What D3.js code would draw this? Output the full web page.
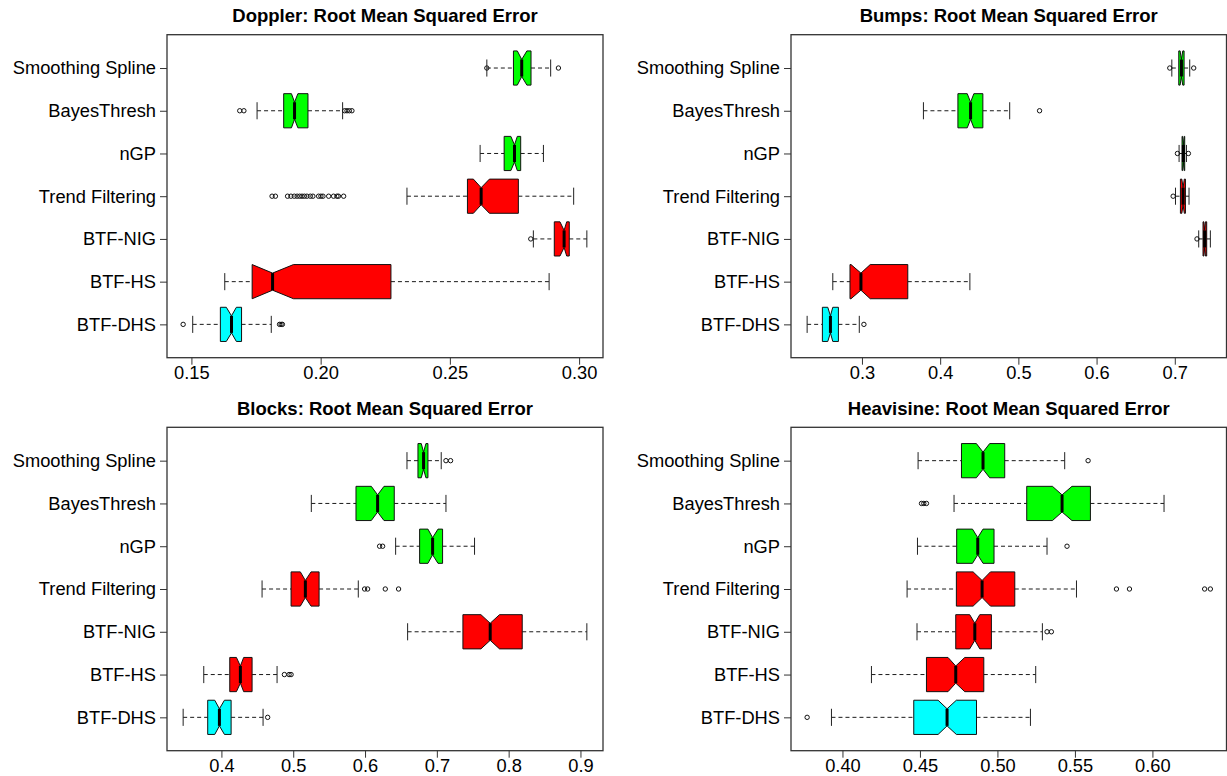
<!DOCTYPE html>
<html>
<head>
<meta charset="utf-8">
<script src="https://cdn.jsdelivr.net/npm/d3@7"></script>
<style>
  body { margin: 0; background: #fff; }
  svg { display: block; font-family: "Liberation Sans", Arial, Helvetica, sans-serif; }
</style>
</head>
<body>
<script>
const methods = ['Smoothing Spline', 'BayesThresh', 'nGP', 'Trend Filtering', 'BTF-NIG', 'BTF-HS', 'BTF-DHS'];
const fills = ['#00ff00', '#00ff00', '#00ff00', '#ff0000', '#ff0000', '#ff0000', '#00ffff'];

// per method: [lower whisker, Q1, median, Q3, upper whisker, notch lo, notch hi]
const dopplerStats = [
  [0.2643, 0.2746, 0.2778, 0.2814, 0.2890, 0.2761, 0.2798],
  [0.1754, 0.1857, 0.1899, 0.1951, 0.2085, 0.1887, 0.1912],
  [0.2617, 0.2710, 0.2750, 0.2774, 0.2862, 0.2736, 0.2761],
  [0.2334, 0.2568, 0.2621, 0.2765, 0.2979, 0.2591, 0.2653],
  [0.2823, 0.2904, 0.2942, 0.2962, 0.3030, 0.2926, 0.2952],
  [0.1629, 0.1735, 0.1814, 0.2272, 0.2884, 0.1735, 0.1895],
  [0.1505, 0.1612, 0.1655, 0.1694, 0.1809, 0.1635, 0.1674]
];
const dopplerOut = [
  [0.2643, 0.2920],
  [0.1687, 0.1703, 0.2093, 0.2102, 0.2111, 0.2121],
  [],
  [0.1812, 0.1825, 0.1872, 0.1885, 0.1898, 0.1909, 0.1919, 0.1928, 0.1937, 0.1947,
   0.1960, 0.1970, 0.1992, 0.2001, 0.2009, 0.2031, 0.2050, 0.2063, 0.2069, 0.2089],
  [0.2813],
  [],
  [0.1468, 0.1841, 0.1847, 0.1852]
];
const dopplerTicks = [0.15, 0.20, 0.25, 0.30];

const bumpsStats = [
  [0.6962, 0.7051, 0.7085, 0.7119, 0.7191, 0.7068, 0.7102],
  [0.3786, 0.4227, 0.4389, 0.4546, 0.4889, 0.4346, 0.4431],
  [0.7055, 0.7093, 0.7110, 0.7127, 0.7149, 0.7100, 0.7120],
  [0.7009, 0.7072, 0.7106, 0.7136, 0.7182, 0.7090, 0.7122],
  [0.7306, 0.7361, 0.7382, 0.7408, 0.7455, 0.7372, 0.7392],
  [0.2627, 0.2847, 0.2987, 0.3586, 0.4380, 0.2860, 0.3106],
  [0.2299, 0.2494, 0.2597, 0.2699, 0.2966, 0.2563, 0.2627]
];
const bumpsOut = [
  [0.6936, 0.7242],
  [0.5271],
  [0.7034, 0.7174],
  [0.6979],
  [0.7284],
  [],
  [0.3025]
];
const bumpsTicks = [0.3, 0.4, 0.5, 0.6, 0.7];

const blocksStats = [
  [0.6584, 0.6737, 0.6815, 0.6876, 0.7061, 0.6783, 0.6848],
  [0.5252, 0.5874, 0.6175, 0.6407, 0.7127, 0.6087, 0.6264],
  [0.6426, 0.6760, 0.6941, 0.7080, 0.7525, 0.6876, 0.7016],
  [0.4566, 0.4970, 0.5169, 0.5360, 0.5906, 0.5099, 0.5248],
  [0.6593, 0.7363, 0.7743, 0.8189, 0.9089, 0.7614, 0.7873],
  [0.3754, 0.4116, 0.4264, 0.4427, 0.4775, 0.4209, 0.4310],
  [0.3467, 0.3809, 0.3972, 0.4135, 0.4580, 0.3907, 0.4042]
];
const blocksOut = [
  [0.7127, 0.7191],
  [],
  [0.6203, 0.6245],
  [0.5994, 0.6036, 0.6282, 0.6467],
  [],
  [0.4877, 0.4942, 0.4970],
  [0.4644]
];
const blocksTicks = [0.4, 0.5, 0.6, 0.7, 0.8, 0.9];

const heavisineStats = [
  [0.4488, 0.4768, 0.4907, 0.5047, 0.5434, 0.4864, 0.4950],
  [0.4720, 0.5189, 0.5417, 0.5600, 0.6075, 0.5355, 0.5481],
  [0.4484, 0.4737, 0.4873, 0.4978, 0.5320, 0.4839, 0.4907],
  [0.4417, 0.4735, 0.4901, 0.5112, 0.5510, 0.4843, 0.4955],
  [0.4481, 0.4731, 0.4854, 0.4961, 0.5290, 0.4821, 0.4886],
  [0.4187, 0.4542, 0.4731, 0.4912, 0.5247, 0.4681, 0.4789],
  [0.3929, 0.4460, 0.4675, 0.4865, 0.5213, 0.4617, 0.4735]
];
const heavisineOut = [
  [0.5585],
  [0.4510, 0.4525, 0.4542],
  [0.5449],
  [0.5768, 0.5852, 0.6337, 0.6374],
  [0.5320, 0.5348],
  [],
  [0.3772]
];
const heavisineTicks = [0.40, 0.45, 0.50, 0.55, 0.60];

const panels = [
  {title: 'Doppler: Root Mean Squared Error', stats: dopplerStats, out: dopplerOut, ticks: dopplerTicks, fmt: '.2f', col: 0, row: 0},
  {title: 'Bumps: Root Mean Squared Error', stats: bumpsStats, out: bumpsOut, ticks: bumpsTicks, fmt: '.1f', col: 1, row: 0},
  {title: 'Blocks: Root Mean Squared Error', stats: blocksStats, out: blocksOut, ticks: blocksTicks, fmt: '.1f', col: 0, row: 1},
  {title: 'Heavisine: Root Mean Squared Error', stats: heavisineStats, out: heavisineOut, ticks: heavisineTicks, fmt: '.2f', col: 1, row: 1}
];

const width = 1227, height = 776;
const lefts = [167, 791], rights = [603, 1226.5];
const tops = [34.7, 427.3], bottoms = [357.7, 750.7];
const fontSize = '18.3px';

const svg = d3.select('body').append('svg')
  .attr('width', width).attr('height', height);

panels.forEach(p => {
  let x0 = lefts[p.col], x1 = rights[p.col],
    y0 = tops[p.row], y1 = bottoms[p.row];

  let all = p.stats.flat().concat(p.out.flat());
  let [mn, mx] = d3.extent(all);
  let pad = (mx - mn) * 0.04;
  let x = d3.scaleLinear().domain([mn - pad, mx + pad]).range([x0, x1]);

  let n = methods.length;
  // position n at top, 1 at bottom (R horizontal boxplot)
  let y = d3.scaleLinear().domain([0.5 - 0.28, n + 0.5 + 0.28]).range([y1, y0]);
  let pos = i => y(n - i);
  let w = y(0) - y(0.4); // half box width

  let g = svg.append('g');

  // title
  g.append('text')
    .attr('x', (x0 + x1) / 2).attr('y', y0 - 12.7)
    .attr('text-anchor', 'middle')
    .style('font-size', '18.5px').style('font-weight', 'bold')
    .text(p.title);

  // boxes
  p.stats.forEach((s, i) => {
    let [lo, q1, med, q3, hi, c1, c2] = s;
    let yc = pos(i);
    let b = g.append('g');

    b.append('line')
      .attr('x1', x(lo)).attr('x2', x(q1)).attr('y1', yc).attr('y2', yc)
      .attr('stroke', '#1a1a1a').attr('stroke-dasharray', '4,3');
    b.append('line')
      .attr('x1', x(q3)).attr('x2', x(hi)).attr('y1', yc).attr('y2', yc)
      .attr('stroke', '#1a1a1a').attr('stroke-dasharray', '4,3');
    [lo, hi].forEach(v => {
      b.append('line')
        .attr('x1', x(v)).attr('x2', x(v)).attr('y1', yc - w / 2).attr('y2', yc + w / 2)
        .attr('stroke', '#222');
    });

    let pts = [
      [q1, -w], [q1, w], [c1, w], [med, w / 2], [c2, w], [q3, w],
      [q3, -w], [c2, -w], [med, -w / 2], [c1, -w]
    ];
    b.append('polygon')
      .attr('points', pts.map(d => x(d[0]) + ',' + (yc + d[1])).join(' '))
      .attr('fill', fills[i]).attr('stroke', '#111').attr('stroke-width', 1);

    b.append('line')
      .attr('x1', x(med)).attr('x2', x(med)).attr('y1', yc - w / 2).attr('y2', yc + w / 2)
      .attr('stroke', '#000').attr('stroke-width', 3);

    b.selectAll('circle')
      .data(p.out[i])
      .enter().append('circle')
      .attr('cx', d => x(d)).attr('cy', yc).attr('r', 2.2)
      .attr('fill', 'none').attr('stroke', '#111').attr('stroke-width', 1);
  });

  // frame
  g.append('rect')
    .attr('x', x0).attr('y', y0)
    .attr('width', x1 - x0).attr('height', y1 - y0)
    .attr('fill', 'none').attr('stroke', '#333').attr('stroke-width', 1.3);

  // x axis
  let xa = g.append('g')
    .attr('transform', 'translate(0,' + y1 + ')')
    .call(d3.axisBottom(x).tickValues(p.ticks).tickFormat(d3.format(p.fmt)).tickSize(7).tickPadding(1));
  xa.select('.domain').remove();
  xa.selectAll('line').attr('stroke', '#333');
  xa.selectAll('text').style('font-size', fontSize).attr('fill', '#000');
  xa.attr('font-family', null).attr('font-size', null);

  // y axis
  let ya = g.append('g')
    .attr('transform', 'translate(' + x0 + ',0)')
    .call(d3.axisLeft(y).tickValues(d3.range(1, n + 1)).tickFormat(v => methods[n - v]).tickSize(7).tickPadding(4));
  ya.select('.domain').remove();
  ya.selectAll('line').attr('stroke', '#333');
  ya.selectAll('text').style('font-size', fontSize).attr('fill', '#000');
  ya.attr('font-family', null).attr('font-size', null);
});
</script>
</body>
</html>
